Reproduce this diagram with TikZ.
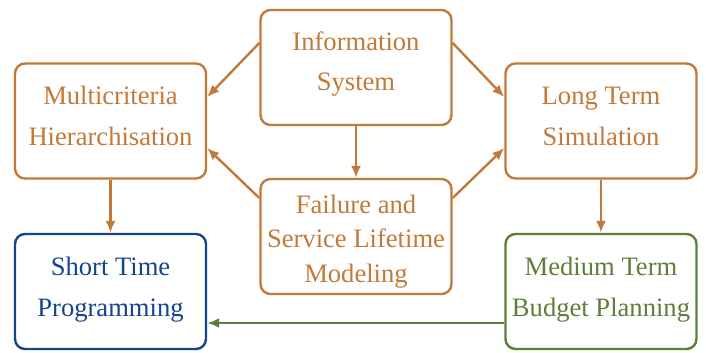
\documentclass[tikz,border=0pt]{standalone}
\usepackage{fontspec}
\setmainfont{Liberation Serif}
\usetikzlibrary{arrows.meta}
\definecolor{orng}{RGB}{193,122,58}
\definecolor{blu}{RGB}{22,68,140}
\definecolor{grn}{RGB}{94,126,58}
\begin{document}
\begin{tikzpicture}[x=1bp,y=-1bp,
  box/.style={draw, line width=2.4bp, rounded corners=10bp, minimum width=191bp, minimum height=115bp, inner sep=0pt},
  txt/.style={align=center, inner sep=0pt, anchor=base, font=\fontsize{26.6bp}{41bp}\selectfont},
  arr/.style={line width=2.4bp, -{Latex[length=12bp,width=10bp]}}]
\useasboundingbox (0,0) rectangle (706,352);
\node[box, draw=orng] (info) at (356,67.5) {};
\node[box, draw=orng] (multi) at (110.5,121) {};
\node[box, draw=orng] (long) at (601,121) {};
\node[box, draw=orng] (fail) at (356,236.5) {};
\node[box, draw=blu] (short) at (110.5,291.5) {};
\node[box, draw=grn] (med) at (601,291.5) {};
\node[txt, text=orng, font=\fontsize{26.6bp}{39.5bp}\selectfont] (infot) at (356,90) {Information\\System};
\node[txt, text=orng] (multit) at (110.5,145) {Multicriteria\\Hierarchisation};
\node[txt, text=orng] (longt) at (601,145) {Long Term\\Simulation};
\node[txt, text=orng, font=\fontsize{26.6bp}{34.5bp}\selectfont] (failt) at (356,282) {Failure and\\Service Lifetime\\Modeling};
\node[txt, text=blu] (shortt) at (110.5,316) {Short Time\\Programming};
\node[txt, text=grn] (medt) at (601,316) {Medium Term\\Budget Planning};
\draw[arr, orng] (info.west |- 0,43) -- (multi.east |- 0,97);
\draw[arr, orng] (info.east |- 0,43) -- (long.west |- 0,97);
\draw[arr, orng] (info) -- (fail);
\draw[arr, orng] (fail.west |- 0,198) -- (multi.east |- 0,148);
\draw[arr, orng] (fail.east |- 0,198) -- (long.west |- 0,148);
\draw[arr, orng] (multi) -- (short);
\draw[arr, orng] (long) -- (med);
\draw[arr, grn] (med.west |- 0,323) -- (short.east |- 0,323);
\end{tikzpicture}
\end{document}
